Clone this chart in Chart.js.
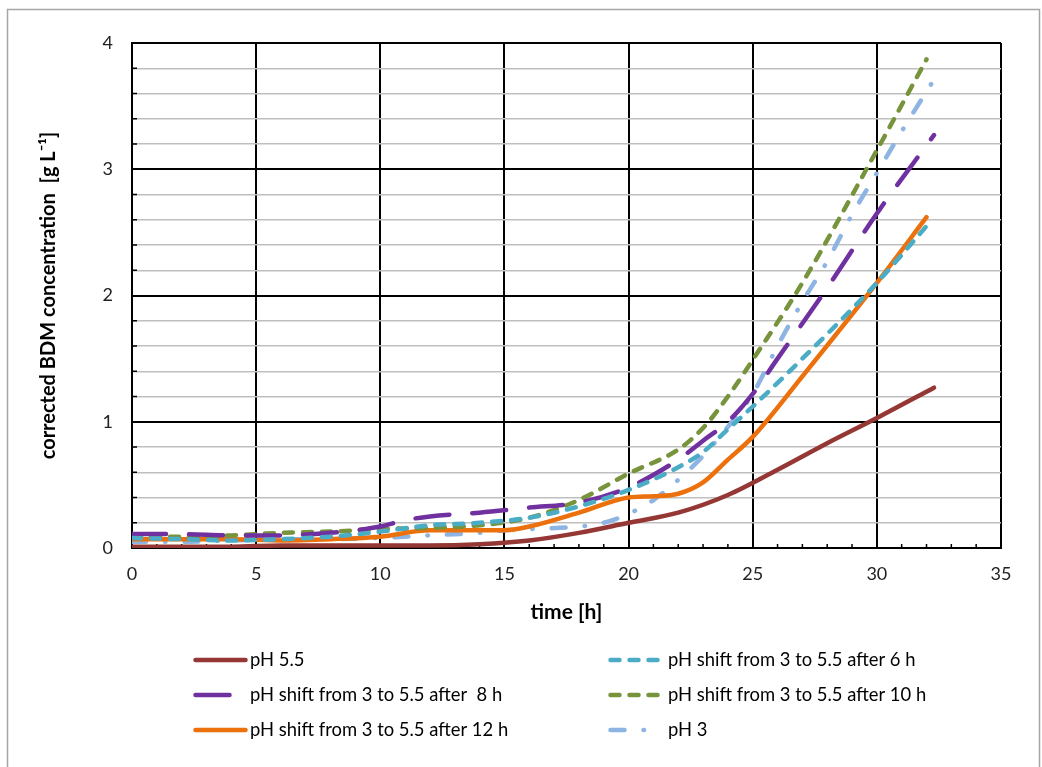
<!DOCTYPE html>
<html>
<head>
<meta charset="utf-8">
<script src="https://cdn.jsdelivr.net/npm/chart.js@4.4.1/dist/chart.umd.min.js"></script>
<style>
  html, body { margin: 0; padding: 0; background: #fff; }
  #wrap { width: 1042px; height: 767px; }
</style>
</head>
<body>
<div id="wrap"><canvas id="bdmChart" width="1042" height="767"></canvas></div>
<script>
// values (time in h, BDM in g/L)
const timePH55 = [0, 2, 4, 6, 8, 10, 12, 14, 16, 18, 20, 22, 24, 26, 28, 30, 32.3];
const bdmPH55 = [0.01, 0.01, 0.01, 0.02, 0.02, 0.02, 0.02, 0.03, 0.06, 0.12, 0.2, 0.28, 0.42, 0.62, 0.83, 1.03, 1.27];

const timeShift6 = [0, 2, 4, 6, 8, 10, 12, 14, 16, 18, 20, 22, 23, 24, 25, 27, 30, 32];
const bdmShift6 = [0.08, 0.07, 0.06, 0.07, 0.09, 0.13, 0.18, 0.2, 0.24, 0.33, 0.46, 0.64, 0.76, 0.94, 1.12, 1.5, 2.1, 2.55];

const timeShift8 = [0, 2, 4, 6, 8, 9, 10, 11, 12, 14, 16, 18, 20, 22, 23, 24, 25, 26, 28, 30, 32.3];
const bdmShift8 = [0.11, 0.11, 0.1, 0.1, 0.12, 0.14, 0.17, 0.22, 0.25, 0.28, 0.32, 0.36, 0.48, 0.7, 0.85, 1.0, 1.22, 1.5, 2.06, 2.65, 3.27];

const timeShift10 = [0, 2, 4, 6, 8, 10, 12, 14, 16, 18, 20, 22, 23, 24, 25, 27, 30, 32];
const bdmShift10 = [0.09, 0.09, 0.1, 0.12, 0.13, 0.15, 0.16, 0.18, 0.24, 0.38, 0.59, 0.78, 0.95, 1.2, 1.49, 2.1, 3.15, 3.87];

const timeShift12 = [0, 2, 4, 6, 8, 10, 12, 14, 15, 16, 18, 20, 21, 22, 23, 24, 25, 27, 30, 32];
const bdmShift12 = [0.07, 0.07, 0.07, 0.06, 0.07, 0.09, 0.14, 0.14, 0.14, 0.17, 0.28, 0.4, 0.41, 0.43, 0.52, 0.7, 0.88, 1.36, 2.1, 2.62];

const timePH3 = [0, 2, 4, 6, 8, 10, 12, 14, 15, 16, 18, 19, 20, 21, 22, 23, 24, 25, 26, 27, 28, 29, 30, 31, 32.3];
const bdmPH3 = [0.05, 0.05, 0.06, 0.07, 0.07, 0.08, 0.1, 0.12, 0.14, 0.15, 0.17, 0.2, 0.27, 0.38, 0.54, 0.73, 0.96, 1.22, 1.6, 1.95, 2.27, 2.64, 2.97, 3.3, 3.71];

const seriesLabels = [
    'pH 5.5',
    'pH shift from 3 to 5.5 after 6 h',
    'pH shift from 3 to 5.5 after  8 h',
    'pH shift from 3 to 5.5 after 10 h',
    'pH shift from 3 to 5.5 after 12 h',
    'pH 3'
];

const xTickMax = 35;
const yTickMax = 4;

function toPoints(times, values) {
    return times.map(function (t, i) { return { x: t, y: values[i] }; });
}

function lineSet(label, times, values, color, dash) {
    return {
        label,
        data: toPoints(times, values),
        borderColor: color,
        backgroundColor: color,
        borderWidth: 4.5,
        borderDash: dash,
        borderCapStyle: 'round',
        pointRadius: 0,
        fill: false,
        cubicInterpolationMode: 'monotone'
    };
}

const fontFamily = 'Lato, "Open Sans", sans-serif';

// legend in two columns, drawn under the plot
const legendPlugin = {
    id: 'twoColumnLegend',
    afterDraw(chart) {
        const ctx = chart.ctx;
        const cols = [{ line: 195.5, text: 250 }, { line: 610.5, text: 668 }];
        const rows = [660, 695, 730];
        const place = [[0, 0], [1, 0], [0, 1], [1, 1], [0, 2], [1, 2]];
        ctx.save();
        chart.data.datasets.forEach(function (ds, i) {
            const col = cols[place[i][0]];
            const y = rows[place[i][1]];
            ctx.beginPath();
            ctx.strokeStyle = ds.borderColor;
            ctx.lineWidth = ds.borderWidth;
            ctx.lineCap = 'round';
            ctx.setLineDash(ds.borderDash || []);
            ctx.moveTo(col.line, y);
            ctx.lineTo(col.line + 50, y);
            ctx.stroke();
            ctx.setLineDash([]);
            ctx.fillStyle = '#000';
            ctx.font = '18.4px ' + fontFamily;
            ctx.textBaseline = 'middle';
            ctx.textAlign = 'left';
            ctx.fillText(ds.label, col.text, y);
        });
        // outer frame
        ctx.strokeStyle = '#a6a6a6';
        ctx.lineWidth = 1.5;
        ctx.strokeRect(7.5, 9.5, 1032, 800);
        ctx.restore();
    }
};

// small inward minor ticks on the bottom and left axes
const minorTickPlugin = {
    id: 'minorTicks',
    beforeDatasetsDraw(chart) {
        const ctx = chart.ctx;
        const xs = chart.scales.x;
        const ys = chart.scales.y;
        const area = chart.chartArea;
        ctx.save();
        ctx.strokeStyle = '#000';
        ctx.lineWidth = 1.5;
        ctx.beginPath();
        xs.ticks.forEach(function (t) {
            if (Math.round(t.value) % 5 !== 0) {
                const px = xs.getPixelForValue(t.value);
                ctx.moveTo(px, area.bottom);
                ctx.lineTo(px, area.bottom - 4);
            }
        });
        ys.ticks.forEach(function (t) {
            if (Math.abs(t.value - Math.round(t.value)) > 1e-6) {
                const py = ys.getPixelForValue(t.value);
                ctx.moveTo(area.left, py);
                ctx.lineTo(area.left + 5, py);
            }
        });
        ctx.stroke();
        ctx.restore();
    }
};

const isInt = function (v) { return Math.abs(v - Math.round(v)) < 1e-6; };

const chartCanvas = document.getElementById('bdmChart');
new Chart(chartCanvas.getContext('2d'), {
    type: 'line',
    data: {
        datasets: [
            lineSet(seriesLabels[0], timePH55, bdmPH55, '#953735', []),
            lineSet(seriesLabels[1], timeShift6, bdmShift6, '#4bacc6', [9, 10]),
            lineSet(seriesLabels[2], timeShift8, bdmShift8, '#7030a0', [34, 23]),
            lineSet(seriesLabels[3], timeShift10, bdmShift10, '#77933c', [9, 10]),
            lineSet(seriesLabels[4], timeShift12, bdmShift12, '#ec700c', []),
            lineSet(seriesLabels[5], timePH3, bdmPH3, '#8db4e2', [14, 19, 0.5, 19])
        ]
    },
    options: {
        responsive: false,
        animation: false,
        devicePixelRatio: 1,
        layout: { padding: { top: 43, right: 41, left: 0, bottom: 138 } },
        plugins: {
            legend: { display: false },
            tooltip: { enabled: false }
        },
        scales: {
            x: {
                type: 'linear',
                min: 0,
                max: xTickMax,
                afterFit(scale) { scale.height = 81; },
                ticks: {
                    stepSize: 1,
                    autoSkip: false,
                    maxRotation: 0,
                    maxTicksLimit: 40,
                    padding: 15,
                    color: '#222',
                    font: { family: fontFamily, size: 18 },
                    callback: function (v) { return Math.round(v) % 5 === 0 ? String(v) : ''; }
                },
                grid: {
                    drawTicks: false,
                    color: function (c) { return c.tick && Math.round(c.tick.value) % 5 === 0 ? '#000' : 'rgba(0,0,0,0)'; },
                    lineWidth: 2
                },
                border: { display: true, color: '#000', width: 2 },
                title: {
                    display: true,
                    text: 'time [h]',
                    color: '#000',
                    font: { family: fontFamily, size: 21, weight: 'bold' },
                    padding: { top: 0, bottom: 4 }
                }
            },
            y: {
                min: 0,
                max: yTickMax,
                afterFit(scale) { scale.width = 132; },
                ticks: {
                    stepSize: 0.2,
                    autoSkip: false,
                    maxTicksLimit: 30,
                    padding: 19,
                    color: '#222',
                    font: { family: fontFamily, size: 18 },
                    callback: function (v) { return isInt(v) ? String(Math.round(v)) : ''; }
                },
                grid: {
                    drawTicks: false,
                    color: function (c) { return c.tick && isInt(c.tick.value) ? '#000' : '#bfbfbf'; },
                    lineWidth: function (c) { return c.tick && isInt(c.tick.value) ? 2 : 1.5; }
                },
                border: { display: true, color: '#000', width: 2 },
                title: {
                    display: true,
                    text: 'corrected BDM concentration  [g L\u207B\u00B9]',
                    color: '#000',
                    font: { family: fontFamily, size: 20, weight: 'bold' },
                    padding: { top: 37, bottom: 0 }
                }
            }
        }
    },
    plugins: [minorTickPlugin, legendPlugin]
});
</script>
</body>
</html>
